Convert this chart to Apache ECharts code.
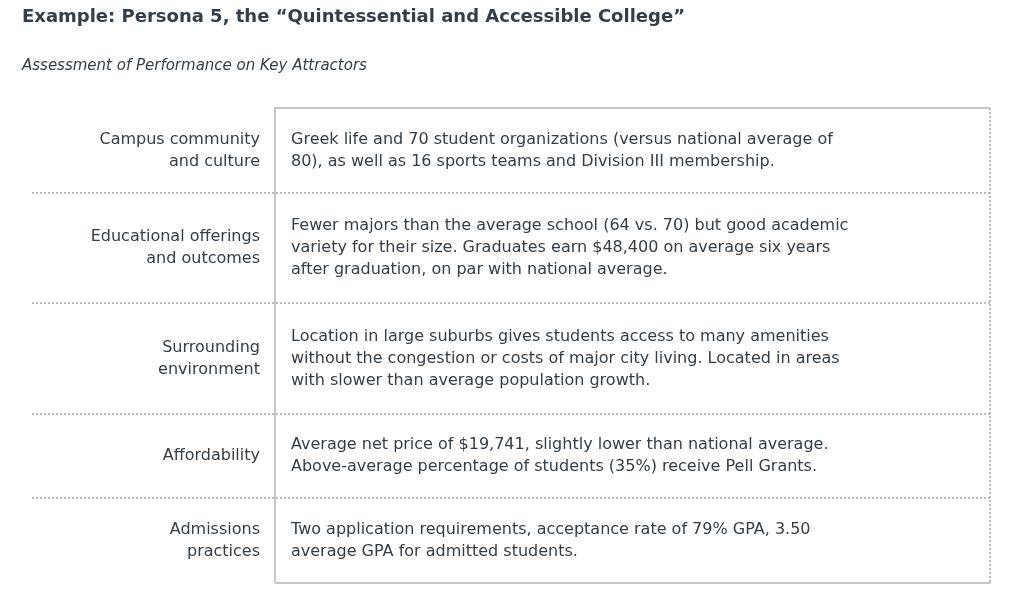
<!DOCTYPE html>
<html>
<head>
<meta charset="utf-8">
<script src="https://cdn.jsdelivr.net/npm/echarts@6/dist/echarts.min.js"></script>
<style>html,body{margin:0;padding:0;background:#fff}#chart{width:1024px;height:610px}</style>
</head>
<body>
<div id="chart"></div>
<script>
var titleText = 'Example: Persona 5, the \u201cQuintessential and Accessible College\u201d';
var subtitleText = 'Assessment of Performance on Key Attractors';

var labels = [
  ['Campus community', 'and culture'],
  ['Educational offerings', 'and outcomes'],
  ['Surrounding', 'environment'],
  ['Affordability'],
  ['Admissions', 'practices']
];

var details = [
  ['Greek life and 70 student organizations (versus national average of',
   '80), as well as 16 sports teams and Division III membership.'],
  ['Fewer majors than the average school (64 vs. 70) but good academic',
   'variety for their size. Graduates earn $48,400 on average six years',
   'after graduation, on par with national average.'],
  ['Location in large suburbs gives students access to many amenities',
   'without the congestion or costs of major city living. Located in areas',
   'with slower than average population growth.'],
  ['Average net price of $19,741, slightly lower than national average.',
   'Above-average percentage of students (35%) receive Pell Grants.'],
  ['Two application requirements, acceptance rate of 79% GPA, 3.50',
   'average GPA for admitted students.']
];

// row boundaries (y of top border, separators, bottom border)
var rowEdges = [108, 193, 303, 414, 498, 583];

(function () {
  var chart = echarts.init(document.getElementById('chart'));
  var textColor = '#333e48';
  var font = '"DejaVu Sans", Verdana, sans-serif';
  var lh = 22;
  var g = [];

  g.push({ type: 'text', left: 22, top: 8, style: { text: titleText, fill: textColor, font: 'bold 18px ' + font } });
  g.push({ type: 'text', left: 22, top: 59, style: { text: subtitleText, fill: textColor, font: 'italic 15px ' + font } });

  var boxL = 275, boxR = 990;
  for (var i = 0; i < labels.length; i++) {
    var rTop = rowEdges[i], rBot = rowEdges[i + 1];
    var mid = (rTop + rBot) / 2;
    var detailTop = mid - details[i].length * lh / 2;
    var labelTop = mid - labels[i].length * lh / 2;
    if (details[i].length === 2 && labels[i].length === 2) labelTop = detailTop;
    g.push({ type: 'text', x: 260, y: labelTop, style: {
      text: labels[i].join('\n'), fill: textColor, font: '16px ' + font,
      align: 'right', verticalAlign: 'top', lineHeight: lh } });
    g.push({ type: 'text', x: 291, y: detailTop, style: {
      text: details[i].join('\n'), fill: textColor, font: '16px ' + font,
      align: 'left', verticalAlign: 'top', lineHeight: lh } });
    if (i > 0) {
      g.push({ type: 'line', shape: { x1: 32, y1: rTop, x2: boxR, y2: rTop },
        style: { stroke: '#b8bcc0', lineWidth: 2, lineDash: [2, 2] } });
    }
  }
  var b0 = rowEdges[0], b1 = rowEdges[rowEdges.length - 1];
  g.push({ type: 'polyline', shape: { points: [[boxL, b1], [boxL, b0], [boxR, b0]] },
    style: { stroke: '#c4c7ca', lineWidth: 2, fill: null } });
  g.push({ type: 'line', shape: { x1: boxR, y1: b0, x2: boxR, y2: b1 },
    style: { stroke: '#b8bcc0', lineWidth: 2, lineDash: [2, 2] } });
  g.push({ type: 'line', shape: { x1: boxL, y1: b1, x2: boxR + 1, y2: b1 },
    style: { stroke: '#c4c7ca', lineWidth: 2 } });

  chart.setOption({ backgroundColor: '#ffffff', graphic: g });
})();
</script>
</body>
</html>
